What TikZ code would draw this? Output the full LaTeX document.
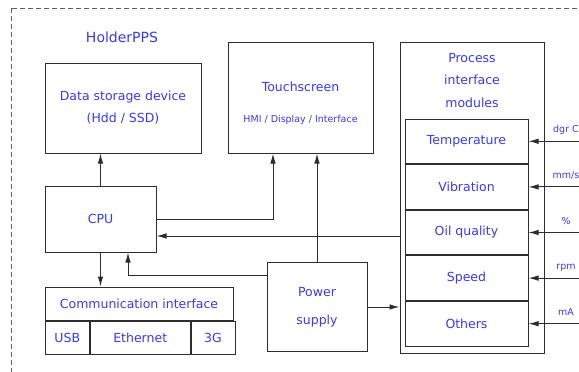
\documentclass[tikz,border=0pt]{standalone}
\usepackage{fontspec}
\setmainfont{DejaVu Sans}
\usetikzlibrary{positioning, arrows.meta}
\definecolor{txtblue}{RGB}{55,55,255}
\definecolor{linegray}{RGB}{45,45,45}
\definecolor{dashgray}{RGB}{95,95,95}

\begin{document}
\begin{tikzpicture}[x=1pt, y=-1pt, >={Latex[length=10pt,width=5.5pt]},
    blk/.style={draw=linegray, line width=1pt, inner sep=0pt, align=center,
                text=txtblue, font=\fontsize{12.5}{22}\selectfont},
    lbl/.style={text=txtblue, inner sep=0pt, align=center, font=\fontsize{12.5}{22.5}\selectfont},
    small/.style={text=txtblue, inner sep=0pt, font=\fontsize{9.5}{11}\selectfont},
    wire/.style={draw=linegray, line width=1pt}]
    \useasboundingbox (0,0) rectangle (579,372);
    \draw[dashgray, dash pattern=on 5pt off 3pt, line width=1pt] (11,8) rectangle (600,390);
    \node[lbl, font=\fontsize{14}{16}\selectfont] (title) at (122,37) {HolderPPS};

    % upper row
    \node[blk, minimum width=156pt, minimum height=90pt] (store) at (123,108) {Data storage device\\(Hdd / SSD)};
    \node[blk, minimum width=145pt, minimum height=111pt] (touch) at (300.5,97.5) {};
    \node[lbl] (touchname) at (300.5,87) {Touchscreen};
    \node[small] (touchsub) at (300.5,120) {HMI / Display / Interface};

    % process modules
    \node[blk, minimum width=144pt, minimum height=311pt] (pim) at (472,197.5) {};
    \node[lbl] (pimname) at (472,80.5) {Process\\interface\\modules};
    \node[blk, minimum width=123pt, minimum height=44.6pt] (temp) at (466.5,141.3) {Temperature};
    \node[blk, minimum width=123pt, minimum height=44.6pt, below=0pt of temp] (vib) {Vibration};
    \node[blk, minimum width=123pt, minimum height=44.6pt, below=0pt of vib] (oil) {Oil quality};
    \node[blk, minimum width=123pt, minimum height=44.6pt, below=0pt of oil] (speed) {Speed};
    \node[blk, minimum width=123pt, minimum height=44.6pt, below=0pt of speed] (others) {Others};

    % lower left
    \node[blk, minimum width=111pt, minimum height=66pt] (cpu) at (100.5,219) {CPU};
    \node[blk, minimum width=188pt, minimum height=33pt] (comm) at (139,303.5) {Communication interface};
    \node[blk, minimum width=44.5pt, minimum height=33pt, anchor=north west] (usb) at (comm.south west) {USB};
    \node[blk, minimum width=99.5pt, minimum height=33pt, right=0pt of usb] (eth) {Ethernet};
    \node[blk, minimum width=44pt, minimum height=33pt, right=0pt of eth] (g3) {3G};
    \node[blk, minimum width=100pt, minimum height=89pt] (power) at (317,307) {Power\\[6pt]supply};

    % connectors
    \draw[wire, ->] (cpu) -- (cpu |- store.south);
    \draw[wire, ->] (cpu) -- (cpu |- comm.north);
    \draw[wire, ->] (cpu.east) -| ([xshift=-27.5pt]touch.south);
    \draw[wire, ->] (power) -- (power |- touch.south);
    \coordinate (pimin) at ([yshift=-38.5pt]pim.west);
    \draw[wire, ->] (pimin) -- (pimin -| cpu.east);
    \coordinate (pwout) at ([yshift=31.5pt]power.west);
    \draw[wire, ->] (pwout) -| ([xshift=27.5pt]cpu.south);
    \draw[wire, ->] (power.east) -- (power.east -| pim.west);

    % field signals
    \coordinate (rim) at (590,0);
    \draw[wire, ->] (rim |- temp.east) -- node[small, pos=0.39, anchor=base, yshift=8.5pt] {dgr C} (temp.east);
    \draw[wire, ->] (rim |- vib.east) -- node[small, pos=0.39, anchor=base, yshift=8.5pt] {mm/s} (vib.east);
    \draw[wire, ->] (rim |- oil.east) -- node[small, pos=0.39, anchor=base, yshift=8.5pt] {\%} (oil.east);
    \draw[wire, ->] (rim |- speed.east) -- node[small, pos=0.39, anchor=base, yshift=8.5pt] {rpm} (speed.east);
    \draw[wire, ->] (rim |- others.east) -- node[small, pos=0.39, anchor=base, yshift=8.5pt] {mA} (others.east);
\end{tikzpicture}
\end{document}
